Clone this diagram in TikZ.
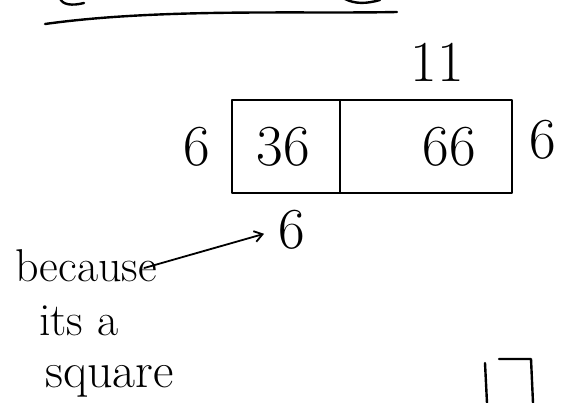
\documentclass[tikz,border=0pt]{standalone}
\usepackage{tikz}
\usetikzlibrary{arrows.meta,positioning}

\begin{document}
\begin{tikzpicture}[
  x=1pt, y=-1pt, >={Straight Barb[length=8pt,width=11pt]},
  line width=2.4pt, line cap=round, line join=round,
  num/.style={inner sep=0pt, font=\fontsize{58}{60}\selectfont},
  word/.style={inner sep=0pt, anchor=west, font=\fontsize{46}{48}\selectfont},
  cell/.style={draw, minimum height=93pt, inner sep=0pt, outer sep=0pt}]
  \useasboundingbox (0,0) rectangle (564,403);
  % remains of the line above and its underline
  \draw (60,-2) .. controls (62,5) and (72,6) .. (84,3);
  \draw (345,-1) .. controls (355,4) and (366,4) .. (380,0);
  \draw (45,24) .. controls (160,8) and (300,14) .. (397,12);
  % the rectangle and its parts
  \node[cell, minimum width=108pt] (leftcell) at (286,146.5) {};
  \node[cell, minimum width=172pt, right=0pt of leftcell] (rightcell) {};
  \node[num] (area1) at (283,147) {36};
  \node[num] (area2) at (449,147) {66};
  \node[num] (top) at (437,62) {11};
  \node[num] (leftside) at (197,147) {6};
  \node[num] (rightside) at (543,140) {6};
  \node[num] (bottom) at (292,230) {6};
  % the note
  \node[word] (because) at (14,266) {because};
  \node[word] (its) at (38,321) {its a};
  \node[word, font=\fontsize{50}{52}\selectfont] (square) at (44,381) {square};
  \draw[->, line width=1.8pt, shorten >=14pt] (because.east) ++(-14pt,-2pt) -- (bottom.west);
  % the number at the bottom corner
  \draw (485,363) -- (487,403);
  \draw (499,359) -- (531,359) -- (533,403);
\end{tikzpicture}
\end{document}
